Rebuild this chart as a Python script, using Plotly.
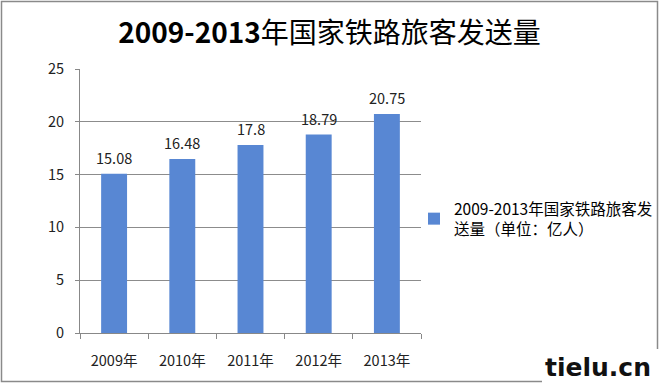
import plotly.graph_objects as go

categories = ["2009年", "2010年", "2011年", "2012年", "2013年"]
values = [15.08, 16.48, 17.8, 18.79, 20.75]
labels = ["15.08", "16.48", "17.8", "18.79", "20.75"]
series_name = "2009-2013年国家铁路旅客发<br>送量（单位：亿人）"
title_text = "<b>2009-2013</b>年国家铁路旅客发送量"
y_ticks = [0, 5, 10, 15, 20, 25]

W, H = 659, 385
L, R, T, B = 80, 421, 69, 333
pw, ph = R - L, B - T

def px(x):
    return (x - L) / pw

def py(y):
    return (B - y) / ph

FONT = "Noto Sans CJK SC, Noto Sans, sans-serif"
BAR = "#5887D3"

fig = go.Figure()
fig.add_trace(go.Bar(
    x=categories, y=values, name=series_name,
    marker=dict(color=BAR, line=dict(width=0)),
    width=0.38, showlegend=True,
))

for c, v, t in zip(categories, values, labels):
    fig.add_annotation(x=c, y=v, text=t, showarrow=False, xref="x", yref="y",
                       yanchor="bottom", yshift=4,
                       font=dict(family=FONT, size=14.5, color="#222"))

# outer border
fig.add_shape(type="rect", xref="paper", yref="paper",
              x0=px(1.5), x1=px(657.5), y0=py(381.5), y1=py(1.5),
              line=dict(color="#8a8a8a", width=1.5), fillcolor="rgba(0,0,0,0)", layer="below")
# watermark box
fig.add_shape(type="rect", xref="paper", yref="paper",
              x0=px(542), x1=px(660), y0=py(386), y1=py(349),
              line=dict(width=0), fillcolor="white", layer="above")
fig.add_annotation(xref="paper", yref="paper", x=px(598), y=py(367), text="<b>tielu.cn</b>",
                   showarrow=False, font=dict(family="DejaVu Sans, Arial Black, sans-serif", size=25, color="#111"),
                   xanchor="center", yanchor="middle")

fig.update_layout(
    width=W, height=H,
    margin=dict(l=L, r=W - R, t=T, b=H - B, pad=0, autoexpand=False),
    paper_bgcolor="white", plot_bgcolor="white",
    title=dict(text=title_text, x=0.5, xanchor="center", xref="container",
               y=1 - 33 / H, yanchor="middle", yref="container",
               font=dict(family=FONT, size=28, color="#000")),
    font=dict(family=FONT, size=14, color="#222"),
    legend=dict(x=px(414), y=py(192), xanchor="left", yanchor="top",
                xref="paper", yref="paper", font=dict(family=FONT, size=15.5, color="#000"),
                bgcolor="rgba(0,0,0,0)", itemwidth=30),
    xaxis=dict(showline=True, linecolor="#888", linewidth=1, ticks="outside",
               tickson="boundaries", ticklen=5, tickcolor="#888", ticklabelstandoff=15,
               showgrid=False, tickfont=dict(family=FONT, size=14.5, color="#222")),
    yaxis=dict(range=[0, 25], tickvals=y_ticks, showline=True, linecolor="#888", linewidth=1,
               ticks="outside", ticklen=4, tickcolor="#888", ticklabelstandoff=8,
               showgrid=True, gridcolor="#8c8c8c", gridwidth=1, zeroline=False,
               tickfont=dict(family=FONT, size=14.5, color="#222")),
)

fig.write_html("out.html", config={"displayModeBar": False},
               post_script="document.body.style.margin='0px';document.body.style.padding='0px';")
